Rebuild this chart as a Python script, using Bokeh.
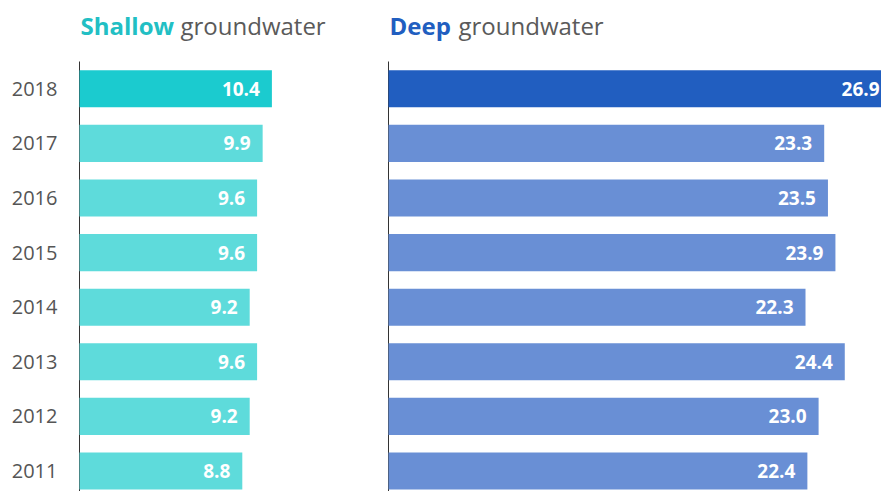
from bokeh.plotting import figure
from bokeh.layouts import row
from bokeh.models import Range1d, FixedTicker, ColumnDataSource
from bokeh.embed import file_html
from bokeh.resources import INLINE
from bokeh.core.properties import value

years = [2018, 2017, 2016, 2015, 2014, 2013, 2012, 2011]
shallow = [10.4, 9.9, 9.6, 9.6, 9.2, 9.6, 9.2, 8.8]
deep = [26.9, 23.3, 23.5, 23.9, 22.3, 24.4, 23.0, 22.4]
year_labels = [str(y) for y in years]

FONT = "Open Sans"
shallow_colors = ["#1bcbcf"] + ["#5edbdb"] * 7
deep_colors = ["#215ec0"] + ["#698fd5"] * 7

PX_PER_YEAR = 54.6
Y_TOP_CAT = 2018.5
Y_START = Y_TOP_CAT - 430 / PX_PER_YEAR
Y_END = Y_TOP_CAT + 61 / PX_PER_YEAR


def make_panel(vals, colors, width, border_left, scale, show_labels, title_bold, title_color, gw_offset):
    src = ColumnDataSource(dict(y=years, v=vals, c=colors, t=[f"{v:.1f}" for v in vals]))
    frame_w = width - border_left
    x_start = -1.0 / scale
    x_end = x_start + frame_w / scale
    p = figure(width=width, height=491, output_backend="svg", toolbar_location=None,
               x_range=Range1d(x_start, x_end), y_range=Range1d(Y_START, Y_END),
               min_border_left=border_left, min_border_right=0, min_border_top=0,
               min_border_bottom=0)
    p.outline_line_color = None
    p.grid.visible = False
    p.xaxis.visible = False
    p.background_fill_color = "white"
    p.border_fill_color = "white"
    # axis line (drawn as a segment so it stops under the title)
    p.segment(x0=[0], y0=[Y_START], x1=[0], y1=[Y_TOP_CAT], line_color="#333333", line_width=1)
    p.hbar(y="y", right="v", left=0, height=0.68, fill_color="c", line_color=None, source=src)
    p.text(x="v", y="y", text="t", x_offset=-12, text_align="right", text_baseline="middle",
           text_color="white", text_font=value(FONT), text_font_style="bold",
           text_font_size="19px", source=src)
    ax = p.yaxis[0]
    if show_labels:
        ax.ticker = FixedTicker(ticks=years)
        ax.major_label_overrides = {y: l for y, l in zip(years, year_labels)}
        ax.axis_line_color = None
        ax.major_tick_line_color = None
        ax.minor_tick_line_color = None
        ax.major_tick_out = 0
        ax.major_label_standoff = 21
        ax.major_label_text_font = FONT
        ax.major_label_text_font_size = "20px"
        ax.major_label_text_color = "#555555"
    else:
        p.yaxis.visible = False
    ty = Y_TOP_CAT + (61 - 25) / PX_PER_YEAR
    p.text(x=[0], y=[ty], text=[title_bold], text_font=value(FONT), text_font_style="bold",
           text_font_size="24px", text_color=title_color, text_baseline="alphabetic",
           x_offset=1)
    p.text(x=[0], y=[ty], text=["groundwater"], text_font=value(FONT), text_font_size="24px",
           text_color="#5a5a5a", text_baseline="alphabetic", x_offset=gw_offset)
    return p


left = make_panel(shallow, shallow_colors, 370, 78, 18.5, True, "Shallow", "#22bfc4", 101)
right = make_panel(deep, deep_colors, 511, 17, 18.7, False, "Deep", "#215ec0", 70)

layout = row(left, right, spacing=0)
open("out.html", "w").write(file_html(layout, INLINE))
